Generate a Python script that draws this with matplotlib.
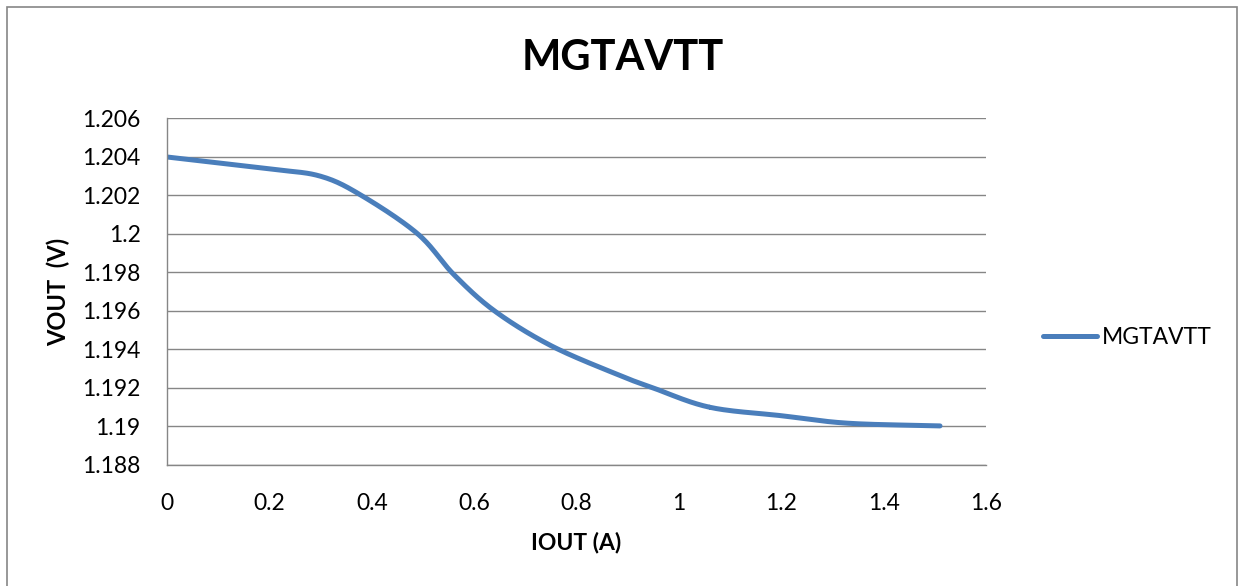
import numpy as np
import matplotlib
matplotlib.use("Agg")
import matplotlib.pyplot as plt
from matplotlib.patches import Rectangle

plt.rcParams["font.family"] = ["Lato", "DejaVu Sans"]

# load regulation readings
iout = [0.0, 0.20, 0.30, 0.38, 0.49, 0.56, 0.64, 0.75, 0.88, 0.95, 1.06, 1.20, 1.33, 1.51]
vout = [1.2040, 1.20338, 1.2030, 1.2020, 1.2000, 1.1979, 1.1960, 1.1942,
        1.1927, 1.1920, 1.1910, 1.19056, 1.19017, 1.19003]
series_name = "MGTAVTT"
yticks = [1.188, 1.19, 1.192, 1.194, 1.196, 1.198, 1.2, 1.202, 1.204, 1.206]
ytick_labels = ["1.188", "1.19", "1.192", "1.194", "1.196", "1.198", "1.2", "1.202", "1.204", "1.206"]
xticks = [0, 0.2, 0.4, 0.6, 0.8, 1, 1.2, 1.4, 1.6]
xtick_labels = ["0", "0.2", "0.4", "0.6", "0.8", "1", "1.2", "1.4", "1.6"]

GRID = "#868686"
LINE = "#4A7EBB"


def smooth(xs, ys, n=30):
    """Catmull-Rom through the points, like a spreadsheet's smoothed line."""
    x = np.asarray(xs, float)
    y = np.asarray(ys, float)
    px = np.concatenate([[2 * x[0] - x[1]], x, [2 * x[-1] - x[-2]]])
    py = np.concatenate([[2 * y[0] - y[1]], y, [2 * y[-1] - y[-2]]])
    t = np.linspace(0, 1, n)
    out_x, out_y = [], []
    for i in range(1, len(px) - 2):
        for p, out in ((px, out_x), (py, out_y)):
            p0, p1, p2, p3 = p[i - 1], p[i], p[i + 1], p[i + 2]
            out.append(0.5 * (2 * p1 + (-p0 + p2) * t
                              + (2 * p0 - 5 * p1 + 4 * p2 - p3) * t ** 2
                              + (-p0 + 3 * p1 - 3 * p2 + p3) * t ** 3))
    return np.concatenate(out_x), np.concatenate(out_y)


fig = plt.figure(figsize=(12.38, 5.86), dpi=100)
ax = fig.add_axes([0.1349, 0.2065, 0.6616, 0.5913])

sx, sy = smooth(iout, vout)
ax.plot(sx, sy, color=LINE, lw=3.6, solid_capstyle="round", label=series_name)

ax.set_xlim(0, 1.6)
ax.set_ylim(1.188, 1.206)
ax.set_xticks(xticks, xtick_labels)
ax.set_yticks(yticks, ytick_labels)
ax.tick_params(length=0, labelsize=16.5, colors="black")
ax.tick_params(axis="y", pad=19)
ax.tick_params(axis="x", pad=20)
ax.grid(axis="y", color=GRID, lw=1.0)
ax.set_axisbelow(True)
for side in ("right", "top"):
    ax.spines[side].set_visible(False)
for side in ("left", "bottom"):
    ax.spines[side].set_color(GRID)
    ax.spines[side].set_linewidth(1.0)

fig.text(0.5034, 0.9016, "MGTAVTT", ha="center", va="center", fontsize=30, fontweight="bold")
fig.text(0.4653, 0.0734, "IOUT (A)", ha="center", va="center", fontsize=16.5, fontweight="bold")
fig.text(0.0469, 0.5017, "VOUT  (V)", ha="center", va="center", rotation=90,
         fontsize=17, fontweight="bold")

ax.legend(loc="center left", bbox_to_anchor=(1043 / 1238, 1 - 338 / 586),
          bbox_transform=fig.transFigure, frameon=False, fontsize=16.5,
          handlelength=2.35, handletextpad=0.2, borderpad=0, borderaxespad=0)

fig.add_artist(Rectangle((7 / 1238, -0.05), 1230 / 1238, 1.05 - 7 / 586,
                         transform=fig.transFigure, fill=False, edgecolor=GRID, lw=1.2))

fig.savefig("out.png", dpi=100, facecolor="white")
